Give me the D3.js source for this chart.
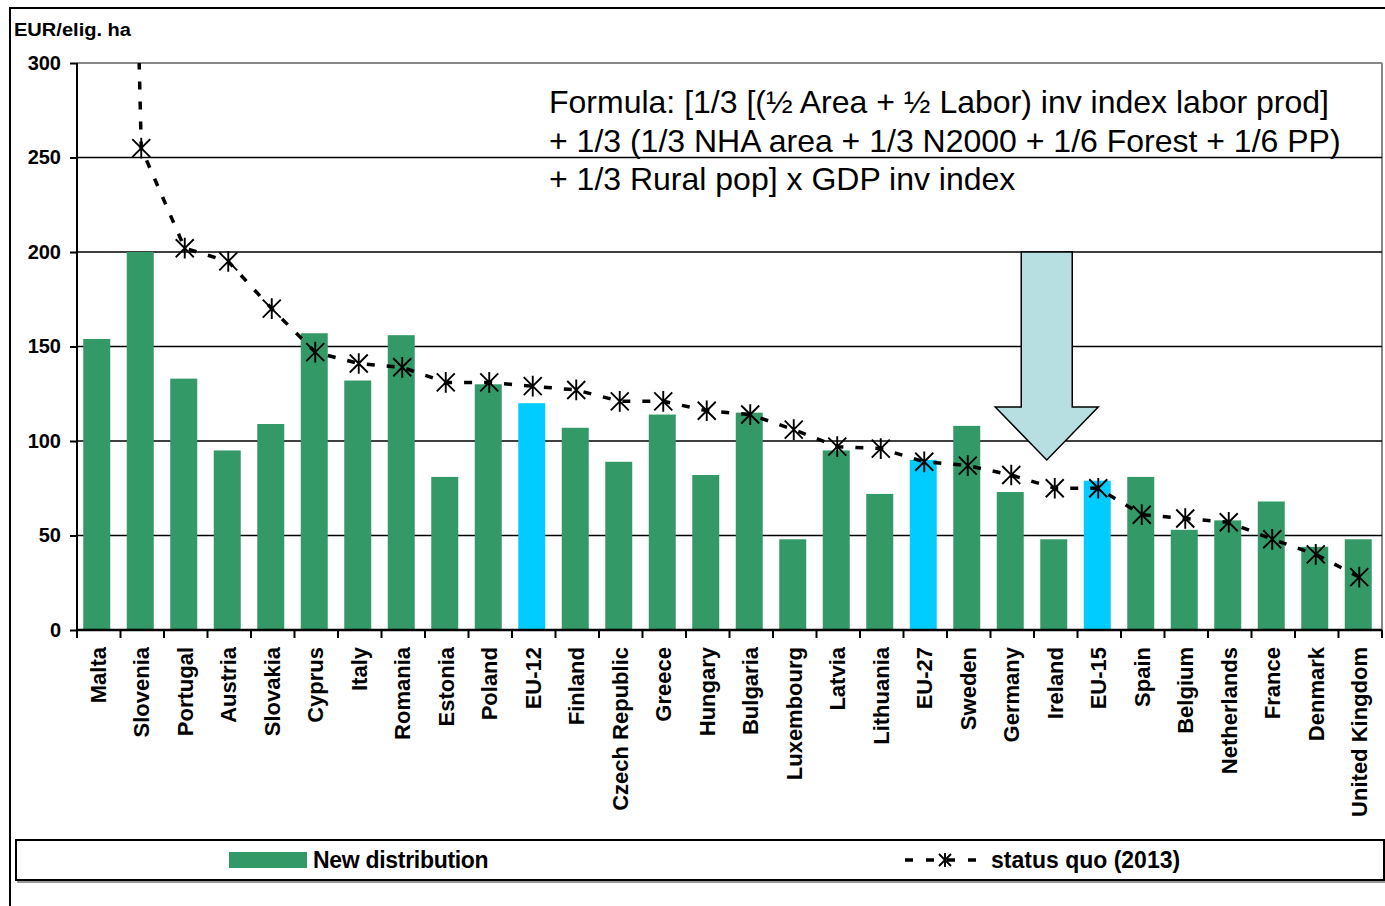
<!DOCTYPE html>
<html>
<head>
<meta charset="utf-8">
<script src="https://cdn.jsdelivr.net/npm/d3@7"></script>
<style>
  body { margin: 0; background: #fff; }
  text { font-family: Arial, "Liberation Sans", sans-serif; }
</style>
</head>
<body>
<div id="chart"></div>
<script>
// chart data
var countries = ["Malta", "Slovenia", "Portugal", "Austria", "Slovakia", "Cyprus", "Italy", "Romania",
    "Estonia", "Poland", "EU-12", "Finland", "Czech Republic", "Greece", "Hungary", "Bulgaria",
    "Luxembourg", "Latvia", "Lithuania", "EU-27", "Sweden", "Germany", "Ireland", "EU-15",
    "Spain", "Belgium", "Netherlands", "France", "Denmark", "United Kingdom"];
var newDistribution = [154, 200, 133, 95, 109, 157, 132, 156, 81, 130, 120, 107, 89, 114, 82, 115,
    48, 95, 72, 90, 108, 73, 48, 79, 81, 53, 58, 68, 44, 48];
var statusQuo = [1200, 255, 202, 195, 170, 147, 141, 139, 131, 131, 129, 127, 121, 121, 116, 114,
    106, 97, 96, 89, 87, 82, 75, 75, 61, 59, 57, 48, 40, 28];
var aggregates = ["EU-12", "EU-27", "EU-15"];
var yTicks = [0, 50, 100, 150, 200, 250, 300];
var formulaLines = ["Formula: [1/3 [(\u00bd Area + \u00bd Labor) inv index labor prod]",
    "+ 1/3 (1/3 NHA area + 1/3 N2000 + 1/6 Forest + 1/6 PP)",
    "+ 1/3 Rural pop] x GDP inv index"];
// arrow in data units
var arrowTop = 200, arrowNeck = 118, arrowTip = 90;

var W = 1385, H = 906;
var margin = {top: 63, left: 77, right: 3, bottom: 276};
var plotW = W - margin.left - margin.right;
var plotH = H - margin.top - margin.bottom;

var svg = d3.select("#chart").append("svg")
    .attr("width", W).attr("height", H);

// outer frame
svg.append("rect")
    .attr("x", 10).attr("y", 8).attr("width", 1390).attr("height", 910)
    .attr("fill", "none").attr("stroke", "#000").attr("stroke-width", 2);

var x = d3.scaleBand().domain(countries).range([0, plotW]).paddingInner(0.38).paddingOuter(0.19);
var xb = d3.scaleBand().domain(countries).range([0, plotW]);
var y = d3.scaleLinear().domain([0, 300]).range([plotH, 0]);

var g = svg.append("g").attr("transform", "translate(" + margin.left + "," + margin.top + ")");

svg.append("defs").append("clipPath").attr("id", "clip")
    .append("rect").attr("x", 0).attr("y", 0).attr("width", plotW).attr("height", plotH);

// plot border (grey top and right)
g.append("line").attr("x1", 0).attr("x2", plotW).attr("y1", 0).attr("y2", 0)
    .attr("stroke", "#888").attr("stroke-width", 2);
g.append("line").attr("x1", plotW).attr("x2", plotW).attr("y1", 0).attr("y2", plotH)
    .attr("stroke", "#888").attr("stroke-width", 2);

// gridlines
g.selectAll(".grid").data(yTicks.filter(function(d){ return d > 0 && d < 300; }))
    .enter().append("line")
    .attr("x1", 0).attr("x2", plotW)
    .attr("y1", function(d){ return y(d); }).attr("y2", function(d){ return y(d); })
    .attr("stroke", "#000").attr("stroke-width", 1.5);

// bars
g.selectAll(".bar").data(countries).enter().append("rect")
    .attr("x", function(d){ return x(d) - 2; })
    .attr("width", x.bandwidth())
    .attr("y", function(d, i){ return y(newDistribution[i]); })
    .attr("height", function(d, i){ return plotH - y(newDistribution[i]); })
    .attr("fill", function(d){ return aggregates.indexOf(d) >= 0 ? "#00ccff" : "#339966"; });

// arrow
var ax = xb("Ireland") + xb.bandwidth() / 2 - 9;
var shaftHalf = 25.5, headHalf = 51.5;
var arrowPts = [
    [ax - shaftHalf, y(arrowTop)], [ax + shaftHalf, y(arrowTop)], [ax + shaftHalf, y(arrowNeck)],
    [ax + headHalf, y(arrowNeck)], [ax, y(arrowTip)], [ax - headHalf, y(arrowNeck)],
    [ax - shaftHalf, y(arrowNeck)]
];
g.append("path")
    .attr("d", d3.line()(arrowPts) + "Z")
    .attr("fill", "#b7dfe1").attr("stroke", "#000").attr("stroke-width", 1.5);

// status quo line
var lineGen = d3.line()
    .x(function(d, i){ return xb(countries[i]) + xb.bandwidth() / 2 - 1; })
    .y(function(d){ return y(d); });
var lineG = g.append("g").attr("clip-path", "url(#clip)");
lineG.append("path").datum(statusQuo)
    .attr("d", lineGen)
    .attr("fill", "none").attr("stroke", "#000").attr("stroke-width", 3.5)
    .attr("stroke-dasharray", "8,12");

function starMarker(sel, cx, cy, s) {
    var p = "M" + (cx - s) + "," + (cy - s) + "L" + (cx + s) + "," + (cy + s) +
        "M" + (cx + s) + "," + (cy - s) + "L" + (cx - s) + "," + (cy + s) +
        "M" + cx + "," + (cy - s * 1.15) + "L" + cx + "," + (cy + s * 1.15);
    sel.append("path").attr("d", p).attr("stroke", "#000").attr("stroke-width", 1.9).attr("fill", "none");
}
statusQuo.forEach(function(v, i){
    if (v > 300) return;
    starMarker(lineG, xb(countries[i]) + xb.bandwidth() / 2 - 1, y(v), 9);
});

// y axis
var yAxis = g.append("g").call(d3.axisLeft(y).tickValues(yTicks).tickSize(7).tickPadding(9));
yAxis.select(".domain").attr("stroke-width", 2).attr("d", "M0," + plotH + "V0");
yAxis.selectAll(".tick line").attr("stroke-width", 2);
yAxis.selectAll("text").attr("font-size", 20).attr("font-weight", "bold")
    .attr("font-family", "Arial, 'Liberation Sans', sans-serif").attr("fill", "#000");

// x axis
var xAxis = g.append("g").attr("transform", "translate(0," + plotH + ")")
    .call(d3.axisBottom(xb).tickSize(0).tickPadding(0));
xAxis.select(".domain").attr("stroke-width", 2.5).attr("d", "M0,0H" + plotW);
xAxis.selectAll(".tick text")
    .attr("font-size", 22).attr("font-weight", "bold")
    .attr("font-family", "Arial, 'Liberation Sans', sans-serif").attr("fill", "#000")
    .attr("text-anchor", "end")
    .attr("transform", "translate(7,17) rotate(-90)")
    .attr("dy", 0).attr("y", 0).attr("x", 0);
xAxis.selectAll(".sep").data(countries.concat(["end"])).enter().append("line")
    .attr("x1", function(d, i){ return i * xb.step(); })
    .attr("x2", function(d, i){ return i * xb.step(); })
    .attr("y1", 0).attr("y2", 8)
    .attr("stroke", "#000").attr("stroke-width", 2);

// axis title
svg.append("text").attr("x", 14).attr("y", 36)
    .attr("font-size", 18).attr("font-weight", "bold")
    .attr("textLength", 117).attr("lengthAdjust", "spacingAndGlyphs")
    .text("EUR/elig. ha");

// formula
svg.selectAll(".formula").data(formulaLines).enter().append("text")
    .attr("x", 549).attr("y", function(d, i){ return 113 + i * 38.5; })
    .attr("font-size", 32).attr("fill", "#000")
    .text(function(d){ return d; });

// legend
var leg = svg.append("g");
leg.append("rect").attr("x", 18).attr("y", 842).attr("width", 1368).attr("height", 40)
    .attr("fill", "none").attr("stroke", "#777").attr("stroke-width", 1.5);
leg.append("rect").attr("x", 16).attr("y", 840).attr("width", 1368).attr("height", 40)
    .attr("fill", "#fff").attr("stroke", "#000").attr("stroke-width", 2);
leg.append("rect").attr("x", 229).attr("y", 852).attr("width", 78).attr("height", 16)
    .attr("fill", "#339966");
leg.append("text").attr("x", 313).attr("y", 868).attr("font-size", 23).attr("font-weight", "bold")
    .attr("letter-spacing", -0.3).text("New distribution");
leg.append("line").attr("x1", 905).attr("x2", 985).attr("y1", 860).attr("y2", 860)
    .attr("stroke", "#000").attr("stroke-width", 3.5).attr("stroke-dasharray", "8,13");
starMarker(leg, 945, 860, 6);
leg.append("text").attr("x", 991).attr("y", 868).attr("font-size", 23).attr("font-weight", "bold")
    .text("status quo (2013)");
</script>
</body>
</html>
